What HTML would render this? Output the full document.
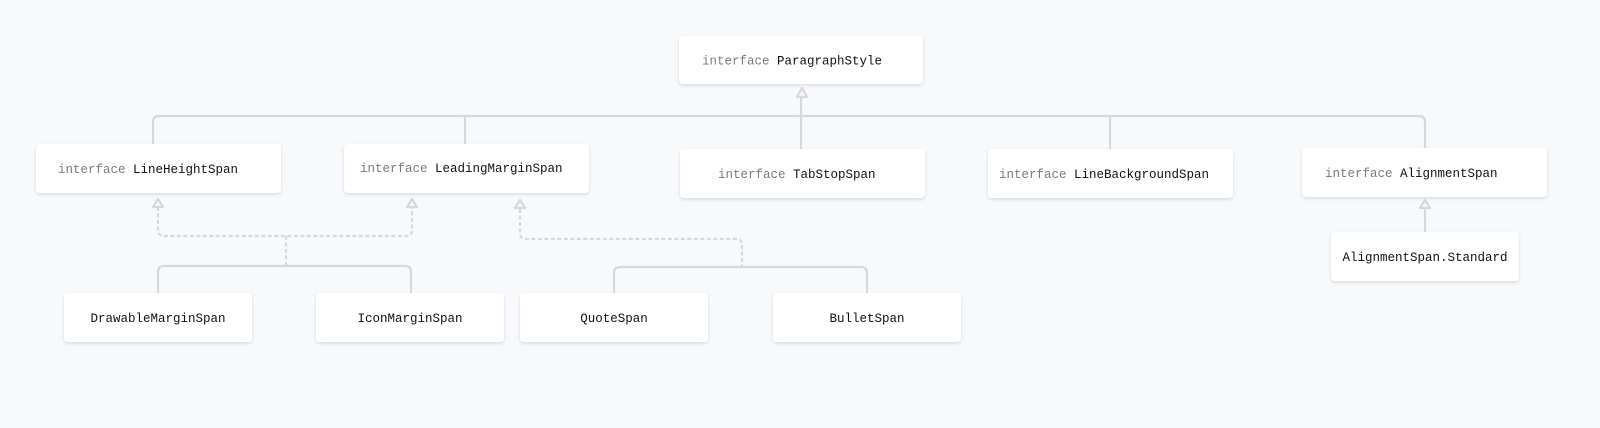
<!DOCTYPE html>
<html><head><meta charset="utf-8"><style>
html,body{margin:0;padding:0;background:#f8f9fa;}
svg{display:block}
text{font-family:"Liberation Mono",monospace;font-size:12.5px;}
.k{fill:#7a7a7a}
.n{fill:#111}
</style></head><body>
<svg width="1600" height="428" viewBox="0 0 1600 428" xmlns="http://www.w3.org/2000/svg">
<defs>
<filter id="sh" x="-10%" y="-20%" width="120%" height="150%">
<feDropShadow dx="0" dy="1.5" stdDeviation="1.5" flood-color="#000" flood-opacity="0.13"/>
</filter>
</defs>
<rect width="1600" height="428" fill="#f8f9fa"/>
<g fill="none" stroke="#d6d8dc" stroke-width="2.2">
<!-- top bus -->
<path d="M153 144 V122 Q153 116 159 116 H1419 Q1425 116 1425 122 V148"/>
<path d="M465 116 V144"/>
<path d="M801 97 V149"/>
<path d="M1110 116 V149"/>
<!-- bottom solid buses -->
<path d="M158 293 V272 Q158 266 164 266 H405 Q411 266 411 272 V293"/>
<path d="M614 293 V273 Q614 267 620 267 H861 Q867 267 867 273 V293"/>
<!-- standard -->
<path d="M1425 232 V208"/>
</g>
<g fill="none" stroke="#d6d8dc" stroke-width="2.2" stroke-dasharray="4 2.5">
<path d="M158 207 V230 Q158 236 164 236 H406 Q412 236 412 230 V207"/>
<path d="M286 236 V266"/>
<path d="M520 209 V233 Q520 239 526 239 H736 Q742 239 742 245 V267"/>
</g>
<g fill="#f8f9fa" stroke="#d6d8dc" stroke-width="2.2" stroke-linejoin="round">
<path d="M802 88 L797 97 L807 97 Z"/>
<path d="M158 199 L153 207 L163 207 Z"/>
<path d="M412 199 L407 207 L417 207 Z"/>
<path d="M520 200 L515 208 L525 208 Z"/>
<path d="M1425 200 L1420 208 L1430 208 Z"/>
</g>
<g fill="#fff" filter="url(#sh)">
<rect x="679" y="36" width="244" height="48" rx="4"/>
<rect x="36" y="144" width="245" height="49" rx="4"/>
<rect x="344" y="144" width="245" height="49" rx="4"/>
<rect x="680" y="149" width="245" height="49" rx="4"/>
<rect x="988" y="149" width="245" height="49" rx="4"/>
<rect x="1302" y="148" width="245" height="49" rx="4"/>
<rect x="1331" y="232" width="188" height="49" rx="4"/>
<rect x="64" y="293" width="188" height="49" rx="4"/>
<rect x="316" y="293" width="188" height="49" rx="4"/>
<rect x="520" y="293" width="188" height="49" rx="4"/>
<rect x="773" y="293" width="188" height="49" rx="4"/>
</g>
<text x="702" y="64.5"><tspan class="k">interface </tspan><tspan class="n">ParagraphStyle</tspan></text>
<text x="58" y="173"><tspan class="k">interface </tspan><tspan class="n">LineHeightSpan</tspan></text>
<text x="360" y="172"><tspan class="k">interface </tspan><tspan class="n">LeadingMarginSpan</tspan></text>
<text x="718" y="178"><tspan class="k">interface </tspan><tspan class="n">TabStopSpan</tspan></text>
<text x="999" y="178"><tspan class="k">interface </tspan><tspan class="n">LineBackgroundSpan</tspan></text>
<text x="1325" y="177"><tspan class="k">interface </tspan><tspan class="n">AlignmentSpan</tspan></text>
<g class="n" text-anchor="middle">
<text x="1425" y="261" class="n">AlignmentSpan.Standard</text>
<text x="158" y="322" class="n">DrawableMarginSpan</text>
<text x="410" y="322" class="n">IconMarginSpan</text>
<text x="614" y="322" class="n">QuoteSpan</text>
<text x="867" y="322" class="n">BulletSpan</text>
</g>
</svg>
</body></html>
